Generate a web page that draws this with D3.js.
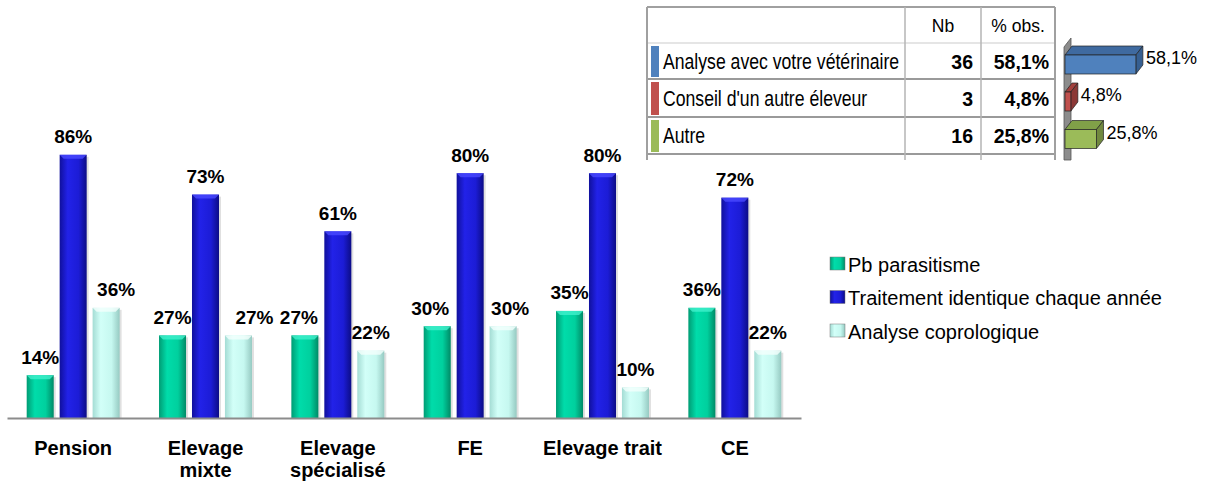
<!DOCTYPE html>
<html>
<head>
<meta charset="utf-8">
<script src="https://cdn.jsdelivr.net/npm/d3@7"></script>
<style>
  body { margin: 0; background: #fff; }
  text { font-family: Arial, "Liberation Sans", sans-serif; }
</style>
</head>
<body>
<div id="chart"></div>
<script>
// Main grouped bars
const categories = ["Pension", "Elevage mixte", "Elevage spécialisé", "FE", "Elevage trait", "CE"];
const tickLabels = [["Pension"], ["Elevage", "mixte"], ["Elevage", "spécialisé"], ["FE"], ["Elevage trait"], ["CE"]];
const seriesNames = ["Pb parasitisme", "Traitement identique chaque année", "Analyse coprologique"];
const pbParasitisme = [14, 27, 27, 30, 35, 36];
const traitementIdentique = [86, 73, 61, 80, 80, 72];
const analyseCoprologique = [36, 27, 22, 30, 10, 22];

// Inset table
const tableRows = ["Analyse avec votre vétérinaire", "Conseil d'un autre éleveur", "Autre"];
const tableNb = [36, 3, 16];
const tablePct = [58.1, 4.8, 25.8];
const tableHeaders = ["Nb", "% obs."];

const width = 1207, height = 483;

const svg = d3.select("#chart")
    .append("svg")
    .attr("width", width)
    .attr("height", height);

const defs = svg.append("defs");

function addGradient(id, stops) {
    const g = defs.append("linearGradient")
        .attr("id", id)
        .attr("x1", "0%").attr("x2", "100%")
        .attr("y1", "0%").attr("y2", "0%");
    stops.forEach(s => g.append("stop").attr("offset", s[0]).attr("stop-color", s[1]));
}
addGradient("g0", [["0%", "#009c74"], ["30%", "#00dcaa"], ["70%", "#00d09e"], ["100%", "#008a66"]]);
addGradient("g1", [["0%", "#10109c"], ["30%", "#2222e8"], ["70%", "#1c1cd6"], ["100%", "#0c0c86"]]);
addGradient("g2", [["0%", "#a4dcd4"], ["30%", "#d2fff8"], ["70%", "#c6f8f0"], ["100%", "#96cac2"]]);
const topColors = ["#40f0cc", "#4a4aff", "#f4fffd"];

const data = categories.map((c, i) => ({
    category: c,
    values: [pbParasitisme[i], traitementIdentique[i], analyseCoprologique[i]]
}));

// label nudges where the original moved labels aside
const labelNudge = { "Pension|2": 10, "Elevage mixte|2": 16, "Elevage spécialisé|0": -6, "FE|0": -7, "FE|2": 7 };

const x0 = d3.scaleBand()
    .domain(categories)
    .range([7, 801])
    .paddingInner(0.2976)
    .paddingOuter(0.1488);

const x1 = d3.scaleBand()
    .domain(d3.range(seriesNames.length))
    .range([0, x0.bandwidth()])
    .paddingInner(0.18);

const y = d3.scaleLinear()
    .domain([0, 100])
    .range([418, 112]);

const groups = svg.selectAll("g.group")
    .data(data)
    .enter()
    .append("g")
    .attr("class", "group")
    .attr("transform", d => `translate(${x0(d.category)},0)`);

const bars = groups.selectAll("g.bar")
    .data(d => d.values.map((v, k) => ({ category: d.category, k, v })))
    .enter()
    .append("g")
    .attr("class", "bar");

// soft shadow
bars.append("rect")
    .attr("x", d => x1(d.k) + 2)
    .attr("y", d => y(d.v) + 2)
    .attr("width", x1.bandwidth())
    .attr("height", d => y(0) - y(d.v) - 2)
    .attr("fill", "#000")
    .attr("opacity", 0.12);

bars.append("rect")
    .attr("x", d => x1(d.k))
    .attr("y", d => y(d.v))
    .attr("width", x1.bandwidth())
    .attr("height", d => y(0) - y(d.v))
    .attr("fill", d => `url(#g${d.k})`);

// bevelled top
bars.append("path")
    .attr("d", d => {
        const xl = x1(d.k), xr = xl + x1.bandwidth(), yt = y(d.v);
        return `M${xl},${yt}L${xr},${yt}L${xr - 4},${yt + 4}L${xl + 4},${yt + 4}Z`;
    })
    .attr("fill", d => topColors[d.k])
    .attr("opacity", 0.8);

bars.append("text")
    .attr("x", d => x1(d.k) + x1.bandwidth() / 2 + (labelNudge[d.category + "|" + d.k] || 0))
    .attr("y", d => y(d.v) - 11.5)
    .attr("text-anchor", "middle")
    .style("font-size", "19px")
    .style("font-weight", "bold")
    .style("fill", "#000")
    .text(d => d.v + "%");

// x axis
const xAxis = svg.append("g")
    .attr("transform", `translate(0,${y(0)})`)
    .call(d3.axisBottom(x0).tickSize(0).tickSizeOuter(0).tickFormat(""));
xAxis.select(".domain").attr("stroke", "#8c8c8c").attr("stroke-width", 2);
xAxis.selectAll(".tick text").remove();
xAxis.selectAll(".tick").each(function (c, i) {
    const t = d3.select(this).append("text")
        .attr("text-anchor", "middle")
        .style("font-size", "20px")
        .style("font-weight", "bold")
        .style("fill", "#000");
    tickLabels[i].forEach((line, j) => {
        t.append("tspan").attr("x", 0).attr("y", 37 + j * 22).text(line);
    });
});

// legend
const legend = svg.append("g").attr("transform", "translate(830,257)");
seriesNames.forEach((s, k) => {
    const row = legend.append("g").attr("transform", `translate(0,${k * 33.5})`);
    row.append("rect")
        .attr("width", 15).attr("height", 13)
        .attr("fill", `url(#g${k})`)
        .attr("stroke", "#777").attr("stroke-width", 0.5);
    row.append("text")
        .attr("x", 18).attr("y", 14.5)
        .style("font-size", "20px")
        .style("fill", "#000")
        .text(s);
});

// inset table
const colX = [647, 905, 981, 1055];
const rowY = [7, 43, 79, 117, 154];
const tableColors = ["#4f81bd", "#c0504d", "#9bbb59"];
const table = svg.append("g");

// header
tableHeaders.forEach((h, j) => {
    table.append("text")
        .attr("x", (colX[j + 1] + colX[j + 2]) / 2)
        .attr("y", 32)
        .attr("text-anchor", "middle")
        .style("font-size", "17.5px")
        .text(h);
});

tableRows.forEach((r, i) => {
    const top = rowY[i + 1], bot = rowY[i + 2], mid = (top + bot) / 2;
    table.append("rect")
        .attr("x", 651).attr("y", top + 3)
        .attr("width", 8).attr("height", bot - top - 5)
        .attr("fill", tableColors[i]);
    table.append("text")
        .attr("transform", `translate(663,${mid + 7.5}) scale(0.82,1)`)
        .style("font-size", "21.5px")
        .text(r);
    table.append("text")
        .attr("x", colX[2] - 8).attr("y", mid + 7.5)
        .attr("text-anchor", "end")
        .style("font-size", "19.5px")
        .style("font-weight", "bold")
        .text(tableNb[i]);
    table.append("text")
        .attr("x", colX[3] - 6).attr("y", mid + 7.5)
        .attr("text-anchor", "end")
        .style("font-size", "19.5px")
        .style("font-weight", "bold")
        .text(d3.format(".1f")(tablePct[i]).replace(".", ",") + "%");
});

// table rules
table.append("line").attr("x1", colX[0]).attr("x2", colX[3]).attr("y1", rowY[0]).attr("y2", rowY[0])
    .attr("stroke", "#a0a0a0").attr("stroke-width", 2);
table.append("line").attr("x1", colX[0]).attr("x2", colX[3]).attr("y1", rowY[1]).attr("y2", rowY[1])
    .attr("stroke", "#dcdcdc").attr("stroke-width", 1.5);
[rowY[2], rowY[3], rowY[4]].forEach(yy => {
    table.append("line").attr("x1", colX[0]).attr("x2", colX[3]).attr("y1", yy).attr("y2", yy)
        .attr("stroke", "#9a9a9a").attr("stroke-width", 2);
});
colX.forEach((xx, j) => {
    table.append("line").attr("x1", xx).attr("x2", xx).attr("y1", rowY[0]).attr("y2", 160)
        .attr("stroke", j === 0 || j === 3 ? "#a0a0a0" : "#b4b4b4").attr("stroke-width", j === 0 || j === 3 ? 2 : 1.5);
});

// 3D horizontal bars beside the table
const xh = d3.scaleLinear().domain([0, 100]).range([1065, 1187]);
const depthX = 7, depthY = 9, barH = 19;
const frontColors = ["#4f81bd", "#c0504d", "#9bbb59"];
const sideColors = ["#365f91", "#8c3836", "#71893f"];
const topFaceColors = ["#3f6aa0", "#a2403d", "#80a048"];

svg.append("path")
    .attr("d", `M1064,47L${1064 + depthX},38L${1064 + depthX},160L1064,160Z`)
    .attr("fill", "#8c8c8c")
    .attr("stroke", "#555").attr("stroke-width", 0.8);

tablePct.forEach((v, i) => {
    const mid = (rowY[i + 1] + rowY[i + 2]) / 2 + 3.5;
    const yt = mid - barH / 2, yb = mid + barH / 2;
    const xl = xh(0), xr = xh(v);
    const g = svg.append("g");
    g.append("path")
        .attr("d", `M${xl},${yt}L${xl + depthX},${yt - depthY}L${xr + depthX},${yt - depthY}L${xr},${yt}Z`)
        .attr("fill", topFaceColors[i]).attr("stroke", "#222").attr("stroke-width", 0.7);
    g.append("path")
        .attr("d", `M${xr},${yt}L${xr + depthX},${yt - depthY}L${xr + depthX},${yb - depthY}L${xr},${yb}Z`)
        .attr("fill", sideColors[i]).attr("stroke", "#222").attr("stroke-width", 0.7);
    g.append("rect")
        .attr("x", xl).attr("y", yt)
        .attr("width", xr - xl).attr("height", barH)
        .attr("fill", frontColors[i]).attr("stroke", "#222").attr("stroke-width", 0.7);
    g.append("text")
        .attr("x", xr + depthX + 3)
        .attr("y", mid - 0.5)
        .style("font-size", "18px")
        .text(d3.format(".1f")(v).replace(".", ",") + "%");
});
</script>
</body>
</html>
